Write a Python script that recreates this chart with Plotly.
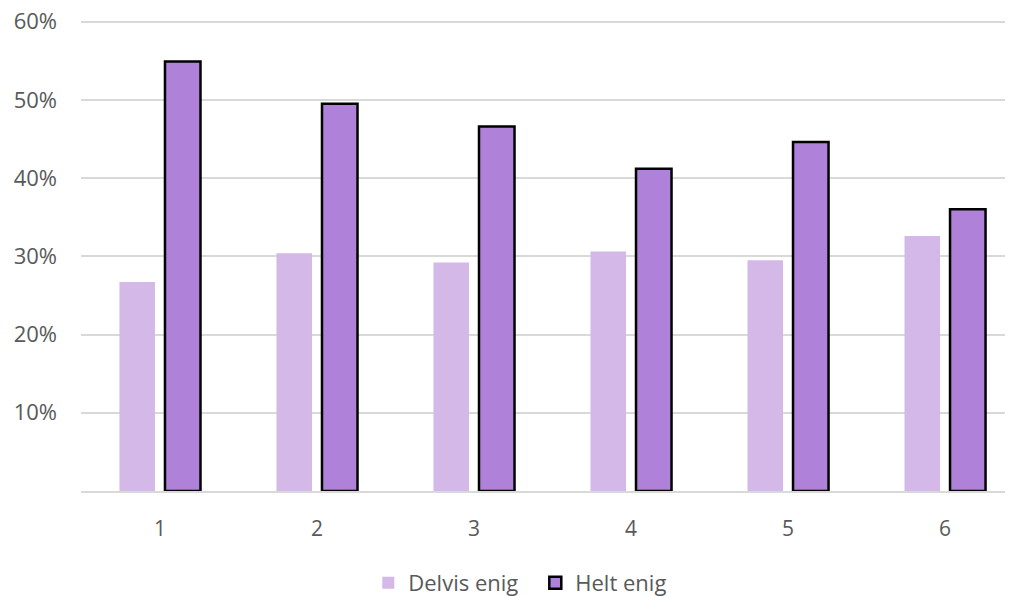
import plotly.graph_objects as go

categories = ["1", "2", "3", "4", "5", "6"]
delvis_enig = [0.267, 0.304, 0.292, 0.306, 0.295, 0.326]
helt_enig = [0.549, 0.495, 0.466, 0.412, 0.446, 0.360]
tick_vals = [0.1, 0.2, 0.3, 0.4, 0.5, 0.6]
tick_text = ["10%", "20%", "30%", "40%", "50%", "60%"]

_FONT = "Open Sans, Liberation Sans, sans-serif"
_TEXT = "#595959"
_GRID = "#d9d9d9"

fig = go.Figure()
fig.add_trace(
    go.Bar(
        x=categories,
        y=delvis_enig,
        name="Delvis enig",
        marker=dict(color="#d4b8e8", line=dict(width=0)),
    )
)
fig.add_trace(
    go.Bar(
        x=categories,
        y=helt_enig,
        name="Helt enig",
        marker=dict(color="#b081d8", line=dict(color="black", width=2.5)),
    )
)

fig.update_layout(
    width=1010,
    height=596,
    plot_bgcolor="white",
    paper_bgcolor="white",
    barmode="group",
    bargap=0.42,
    bargroupgap=0.22,
    margin=dict(l=81, r=5, t=20, b=105, autoexpand=False),
    font=dict(family=_FONT, size=22, color=_TEXT),
    legend=dict(
        orientation="h",
        x=0.53,
        xanchor="center",
        xref="container",
        y=0.022,
        yanchor="middle",
        yref="container",
        entrywidth=122,
        font=dict(size=22, color=_TEXT),
    ),
    xaxis=dict(
        range=[-0.503, 5.382],
        showgrid=False,
        showline=True,
        linecolor=_GRID,
        linewidth=2,
        ticks="",
        ticklabelstandoff=18,
        tickfont=dict(size=21, color=_TEXT),
    ),
    yaxis=dict(
        range=[0, 0.602],
        tickvals=tick_vals,
        ticktext=tick_text,
        showgrid=True,
        gridcolor=_GRID,
        gridwidth=2,
        zeroline=False,
        ticks="",
        ticklabelstandoff=23,
        ticklabeloverflow="allow",
        tickfont=dict(size=22, color=_TEXT),
    ),
)

# drop the default 8px page margin so the figure fills the window exactly
fig.write_html(
    "out.html",
    config={"displayModeBar": False},
    post_script="document.body.style.margin = '0';",
)
